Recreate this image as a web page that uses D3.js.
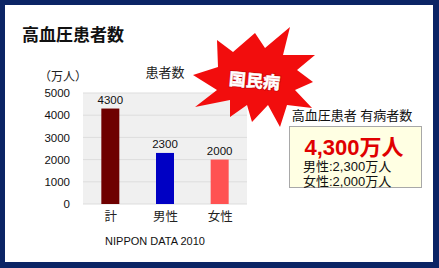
<!DOCTYPE html>
<html>
<head>
<meta charset="utf-8">
<script src="https://cdn.jsdelivr.net/npm/d3@7"></script>
<style>
  body { margin: 0; padding: 0; background: #fff; }
  svg { display: block; font-family: "Liberation Sans", "Noto Sans CJK JP", sans-serif; }
</style>
</head>
<body>
<div id="chart"></div>
<script>
// data
var categories = ["計", "男性", "女性"];
var values = [4300, 2300, 2000];
var barColors = ["#6e0000", "#0000c4", "#ff5252"];
var yTicks = [0, 1000, 2000, 3000, 4000, 5000];

var W = 439, H = 268;

var svg = d3.select("#chart")
    .append("svg")
    .attr("width", W)
    .attr("height", H);

// frame
svg.append("rect")
    .attr("width", W).attr("height", H)
    .attr("fill", "#0b2465");
svg.append("rect")
    .attr("x", 5).attr("y", 5)
    .attr("width", 428).attr("height", 257)
    .attr("fill", "#fff");

// title
svg.append("text")
    .attr("x", 22).attr("y", 41)
    .attr("font-size", 17)
    .attr("font-weight", "bold")
    .attr("fill", "#111")
    .text("高血圧患者数");

// plot area
var plot = {left: 83, right: 247, top: 93, bottom: 204};

var x = d3.scalePoint()
    .domain(categories)
    .range([plot.left, plot.right])
    .padding(0.5);

var y = d3.scaleLinear()
    .domain([0, 5000])
    .range([plot.bottom, plot.top]);

svg.append("rect")
    .attr("x", plot.left).attr("y", plot.top)
    .attr("width", plot.right - plot.left)
    .attr("height", plot.bottom - plot.top)
    .attr("fill", "#f0f0f0");

// grid lines
svg.append("g")
    .selectAll("line")
    .data(yTicks)
    .enter()
    .append("line")
    .attr("x1", plot.left).attr("x2", plot.right)
    .attr("y1", function(d) { return y(d); })
    .attr("y2", function(d) { return y(d); })
    .attr("stroke", "#dddddd")
    .attr("stroke-width", 1);

// y axis
var yAxis = svg.append("g")
    .attr("transform", "translate(" + 70 + ",0)")
    .call(d3.axisLeft(y).tickValues(yTicks).tickFormat(d3.format("d")).tickSize(0).tickPadding(0));
yAxis.select(".domain").remove();
yAxis.selectAll("text")
    .attr("font-size", 11.5)
    .attr("font-family", "Liberation Sans, sans-serif")
    .attr("fill", "#111");

svg.append("text")
    .attr("x", 63).attr("y", 81)
    .attr("text-anchor", "middle")
    .attr("font-size", 12)
    .attr("fill", "#222")
    .text("（万人）");

svg.append("text")
    .attr("x", 165).attr("y", 77)
    .attr("text-anchor", "middle")
    .attr("font-size", 13)
    .attr("fill", "#222")
    .text("患者数");

// bars
var barW = 18;
svg.append("g")
    .selectAll("rect")
    .data(values)
    .enter()
    .append("rect")
    .attr("x", function(d, i) { return x(categories[i]) - barW / 2; })
    .attr("y", function(d) { return y(d); })
    .attr("width", barW)
    .attr("height", function(d) { return y(0) - y(d); })
    .attr("fill", function(d, i) { return barColors[i]; });

// value labels
svg.append("g")
    .selectAll("text")
    .data(values)
    .enter()
    .append("text")
    .attr("x", function(d, i) { return x(categories[i]); })
    .attr("y", function(d) { return y(d) - 5; })
    .attr("text-anchor", "middle")
    .attr("font-size", 11.5)
    .attr("fill", "#111")
    .text(function(d) { return d; });

// x axis labels
var xAxis = svg.append("g")
    .attr("transform", "translate(0," + 212 + ")")
    .call(d3.axisBottom(x).tickSize(0).tickPadding(0));
xAxis.select(".domain").remove();
xAxis.selectAll("text")
    .attr("font-size", 12.5)
    .attr("font-family", "Noto Sans CJK JP, sans-serif")
    .attr("fill", "#222");

svg.append("text")
    .attr("x", 155).attr("y", 245)
    .attr("text-anchor", "middle")
    .attr("font-size", 11)
    .attr("fill", "#111")
    .text("NIPPON DATA 2010");

// starburst
var burst = [[217,40],[233,52],[255,33],[265,48],[290,27],[283,55],[315,55],[297,70],
  [313,82],[295,90],[312,108],[287,105],[280,127],[268,105],[252,122],[247,105],
  [230,117],[230,100],[195,107],[217,90],[193,75],[218,67]];
svg.append("path")
    .attr("d", d3.line()(burst) + "Z")
    .attr("fill", "#f20d0d");
svg.append("text")
    .attr("transform", "translate(254,87) rotate(5)")
    .attr("text-anchor", "middle")
    .attr("font-size", 17)
    .attr("font-weight", "bold")
    .attr("fill", "#a00000")
    .attr("stroke", "#a00000")
    .attr("stroke-width", 2)
    .attr("opacity", 0.5)
    .attr("font-family", "Noto Sans CJK JP, sans-serif")
    .text("国民病");
svg.append("text")
    .attr("transform", "translate(254,87) rotate(5)")
    .attr("text-anchor", "middle")
    .attr("font-size", 17)
    .attr("font-weight", "bold")
    .attr("fill", "#fff")
    .attr("stroke", "#fff")
    .attr("stroke-width", 0.5)
    .attr("font-family", "Noto Sans CJK JP, sans-serif")
    .text("国民病");

// right info box
svg.append("text")
    .attr("x", 352).attr("y", 120)
    .attr("text-anchor", "middle")
    .attr("font-size", 13)
    .attr("fill", "#111")
    .text("高血圧患者 有病者数");

svg.append("rect")
    .attr("x", 289.5).attr("y", 126.5)
    .attr("width", 132).attr("height", 61)
    .attr("fill", "#ffffe3")
    .attr("stroke", "#a8a8a8");

svg.append("text")
    .attr("x", 354).attr("y", 155)
    .attr("text-anchor", "middle")
    .attr("font-size", 22)
    .attr("font-weight", "bold")
    .attr("fill", "#e00000")
    .text("4,300万人");

svg.append("text")
    .attr("x", 303).attr("y", 171)
    .attr("font-size", 13)
    .attr("fill", "#111")
    .text("男性:2,300万人");

svg.append("text")
    .attr("x", 303).attr("y", 186)
    .attr("font-size", 13)
    .attr("fill", "#111")
    .text("女性:2,000万人");
</script>
</body>
</html>
